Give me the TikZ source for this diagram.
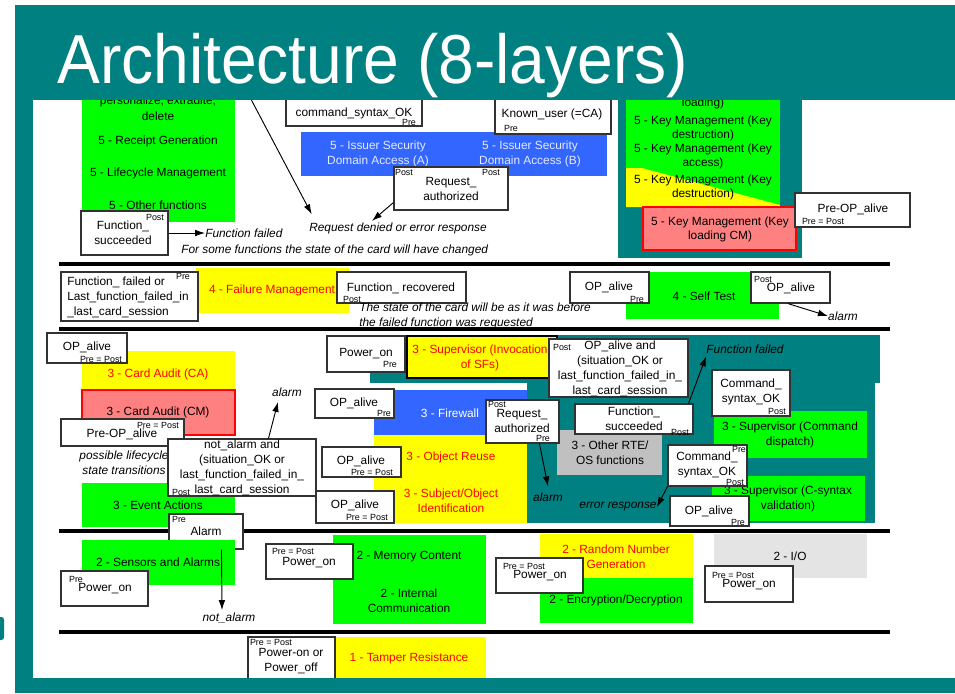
\documentclass[tikz,border=0pt]{standalone}
\usepackage{fontspec}
\usepackage{graphicx}
\setmainfont{Liberation Sans}
\usetikzlibrary{arrows.meta,fit}
\definecolor{teal5}{RGB}{0,128,128}
\definecolor{grn}{RGB}{0,255,0}
\definecolor{yel}{RGB}{255,255,0}
\definecolor{blu}{RGB}{51,102,255}
\definecolor{pnk}{RGB}{255,128,128}
\definecolor{rd}{RGB}{255,0,0}
\definecolor{gr1}{RGB}{192,192,192}
\definecolor{gr2}{RGB}{228,228,228}
\definecolor{bd}{RGB}{50,50,50}
\definecolor{isdt}{RGB}{228,234,255}
\begin{document}
\begin{tikzpicture}[x=0.75pt,y=-0.75pt,
 box/.style={draw=bd, fill=white, line width=0.8pt, inner sep=0pt},
 area/.style={inner sep=0pt, draw=none},
 tx/.style={font=\fontsize{8.9}{11.2}\selectfont, align=center, inner sep=0pt},
 km/.style={font=\fontsize{8.9}{10.5}\selectfont, align=center, inner sep=0pt},
 tag/.style={font=\fontsize{6.7}{7}\selectfont, inner sep=0pt},
 it/.style={font=\fontsize{8.9}{11.2}\selectfont\itshape, align=center, inner sep=0pt},
 arr/.style={-{Latex[length=7.5pt,width=5pt]}, line width=0.7pt},
 layer/.style={line width=2.6pt},
]
\useasboundingbox (0,0) rectangle (955,693);
\fill[white] (0,0) rectangle (955,693);

% layer separators
\draw[layer] (59,264) -- (890,264);
\draw[layer] (59,329) -- (890,329);
\draw[layer] (59,531) -- (890,531);
\draw[layer] (59,632) -- (890,632);

% ---------------- Layer 5
\node[area, fill=grn, fit={(82,90) (235,222)}] (g5) {};
\node[tx] (g5a) at (158,101) {personalize, extradite,};
\node[tx] (g5b) at (158,116) {delete};
\node[tx] (g5c) at (158,141) {5 - Receipt Generation};
\node[tx] (g5d) at (158,173) {5 - Lifecycle Management};
\node[tx] (g5e) at (158,205) {5 - Other functions};

\node[box, fit={(81,211) (168,255)}] (fs) {};
\node[tx] (fst) at (123,233) {Function\_\\succeeded};
\node[tag] (fsp) at (155,217) {Post};
\node[it, anchor=west] (iff1) at (205,233) {Function failed};
\draw[arr] (fs.east) -- (iff1.west);
\node[it, anchor=west] (isome) at (181,250) {For some functions the state of the card will have changed};

\node[area, fill=blu, fit={(301,132) (607,176)}] (isd) {};
\node[tx, text=isdt] (isda) at (378,154) {5 - Issuer Security\\Domain Access (A)};
\node[tx, text=isdt] (isdb) at (530,154) {5 - Issuer Security\\Domain Access (B)};

\node[box, fit={(286,86) (422,126)}] (cso) {};
\node[tx] (csot) at (354,113) {command\_syntax\_OK};
\node[tag] (csop) at (409,122) {Pre};

\node[box, fit={(495,86) (611,134)}] (ku) {};
\node[tx] (kut) at (552,114) {Known\_user (=CA)};
\node[tag] (kup) at (511,128) {Pre};

\node[box, fit={(394,167) (508,210)}] (ra) {};
\node[tx] (rat) at (451,189) {Request\_\\authorized};
\node[tag] (rap1) at (404,172) {Post};
\node[tag] (rap2) at (491,172) {Post};

\node[it] (ireq) at (398,228) {Request denied or error response};
\draw[arr] ([yshift=6pt]ra.south west) -- ([xshift=-19.5pt,yshift=1pt]ireq.north);
\coordinate (c0) at (244,86);
\draw[arr] (c0) -- ([xshift=2pt,yshift=6pt]ireq.north west);

\node[area, fill=teal5, fit={(618,90) (802,258)}] (kmt) {};
\node[area, fill=grn, fit={(626,90) (780,207)}] (kmg) {};
\fill[yel] (626,168) -- (642,168) -- (780,205) -- (780,207) -- (626,207) -- cycle;
\node[km] (km0) at (703,103) {loading)};
\node[km] (km1) at (703,128) {5 - Key Management (Key\\destruction)};
\node[km] (km2) at (703,156) {5 - Key Management (Key\\access)};
\node[km] (km3) at (703,187) {5 - Key Management (Key\\destruction)};
\node[area, fill=pnk, draw=rd, line width=1.2pt, fit={(643,207) (796,250)}] (kmr) {};
\node[km] (kmrt) at (720,229) {5 - Key Management (Key\\loading CM)};
\node[box, fit={(795,193) (910,227)}] (pop5) {};
\node[tx] (pop5t) at (853,209) {Pre-OP\_alive};
\node[tag] (pop5p) at (823,221) {Pre = Post};

% ---------------- Layer 4
\node[area, fill=yel, fit={(196,268) (349,313)}] (fm) {};
\node[tx, text=rd] (fmt) at (272,290) {4 - Failure Management};
\node[box, fit={(61,272) (198,321)}] (ff) {};
\node[tx, align=left, anchor=west] (fft) at (67,297) {Function\_ failed or\\Last\_function\_failed\_in\\\_last\_card\_session};
\node[tag] (ffp) at (183,276) {Pre};
\node[box, fit={(337,272) (466,303)}] (fr) {};
\node[tx] (frt) at (401,288) {Function\_ recovered};
\node[tag] (frp) at (352,299) {Post};
\node[it, align=left, anchor=west] (istate) at (359,316) {The state of the card will be as it was before\\the failed function was requested};

\node[area, fill=grn, fit={(626,272) (779,319)}] (st) {};
\node[tx] (stt) at (704,296) {4 - Self Test};
\node[box, fit={(570,272) (649,303)}] (opa4) {};
\node[tx] (opa4t) at (609,287) {OP\_alive};
\node[tag] (opa4p) at (637,299) {Pre};
\node[box, fit={(751,272) (830,303)}] (opb4) {};
\node[tx] (opb4t) at (791,288) {OP\_alive};
\node[tag] (opb4p) at (763,279) {Post};
\node[it] (ialarm1) at (843,316) {alarm};
\draw[arr] ([xshift=28pt]opb4.south west) -- (ialarm1.west);

% ---------------- Layer 3 left
\node[area, fill=yel, fit={(82,351) (235,390)}] (ca) {};
\node[tx, text=rd] (cat) at (158,374) {3 - Card Audit (CA)};
\node[area, fill=pnk, draw=rd, line width=1.2pt, fit={(82,390) (235,435)}] (cm) {};
\node[tx] (cmt) at (158,412) {3 - Card Audit (CM)};
\node[box, fit={(47,333) (127,363)}] (op3a) {};
\node[tx] (op3at) at (87,347) {OP\_alive};
\node[tag] (op3ap) at (101,359) {Pre = Post};
\node[it] (ilife) at (124,463) {possible lifecycle\\state transitions};
\node[box, fit={(61,419) (184,446)}] (pop3) {};
\node[tx] (pop3t) at (122,434) {Pre-OP\_alive};
\node[tag] (pop3p) at (158,425) {Pre = Post};
\node[area, fill=grn, fit={(82,483) (235,527)}] (ea) {};
\node[tx] (eat) at (158,505) {3 - Event Actions};
\node[box, fit={(168,439) (316,496)}] (na) {};
\node[tx] (nat) at (242,468) {not\_alarm and\\(situation\_OK or\\last\_function\_failed\_in\_\\last\_card\_session};
\node[tag] (nap) at (181,492) {Post};
\node[it] (ialarm2) at (287,392) {alarm};
\draw[arr] ([xshift=75.75pt]na.north west) -- ([xshift=-6.75pt,yshift=-4pt]ialarm2.south);

\node[box, fit={(169,514) (243,549)}] (al) {};
\node[tx] (alt) at (206,531) {Alarm};
\node[tag] (alp1) at (179,519) {Pre};
\node[tag] (alp2) at (181,543) {Post};

% ---------------- Layer 3 middle / right
\node[area, fill=teal5, fit={(370,335) (880,383)}] (tl1) {};
\node[area, fill=teal5, fit={(527,335) (875,523)}] (tl2) {};
\node[area, fill=blu, fit={(374,390) (527,435)}] (fw) {};
\node[tx, text=white] (fwt) at (450,413) {3 - Firewall};
\node[area, fill=yel, fit={(374,435) (527,523)}] (orr) {};
\node[tx, text=rd] (ort) at (451,457) {3 - Object Reuse};
\node[tx, text=rd] (sot) at (451,501) {3 - Subject/Object\\Identification};
\node[area, fill=yel, draw=black, line width=2pt, fit={(407,336) (557,378)}] (sup) {};
\node[tx, text=rd] (supt) at (480,358) {3 - Supervisor (Invocation\\of SFs)};

\node[box, fit={(327,336) (405,372)}] (pon3) {};
\node[tx] (pon3t) at (366,354) {Power\_on};
\node[tag] (pon3p) at (390,364) {Pre};
\node[box, fit={(549,339) (688,397)}] (opa3) {};
\node[tx] (opa3t) at (620,369) {OP\_alive and\\(situation\_OK or\\last\_function\_failed\_in\_\\last\_card\_session};
\node[tag] (opa3p) at (562,347) {Post};

\node[box, fit={(315,389) (394,418)}] (op3b) {};
\node[tx] (op3bt) at (354,403) {OP\_alive};
\node[tag] (op3bp) at (384,413) {Pre};
\node[box, fit={(322,447) (401,477)}] (op3c) {};
\node[tx] (op3ct) at (361,461) {OP\_alive};
\node[tag] (op3cp) at (372,472) {Pre = Post};
\node[box, fit={(316,491) (394,523)}] (op3d) {};
\node[tx] (op3dt) at (355,505) {OP\_alive};
\node[tag] (op3dp) at (367,517) {Pre = Post};

\node[area, fill=gr1, fit={(557,430) (662,475)}] (rte) {};
\node[tx] (rtet) at (610,453) {3 - Other RTE/\\OS functions};
\node[box, fit={(486,400) (559,443)}] (ra3) {};
\node[tx] (ra3t) at (522,421) {Request\_\\authorized};
\node[tag] (ra3p1) at (497,404) {Post};
\node[tag] (ra3p2) at (543,438) {Pre};
\node[it] (ialarm3) at (548,497) {alarm};
\draw[arr] ([xshift=40.5pt]ra3.south west) -- ([yshift=4.5pt]ialarm3.north);

\node[box, fit={(575,404) (693,434)}] (fsu) {};
\node[tx] (fsut) at (634,419) {Function\_\\succeeded};
\node[tag] (fsup) at (680,432) {Post};
\node[it] (iff2) at (745,349) {Function failed};
\draw[arr] ([xshift=-3.75pt]fsu.north east) -- ([yshift=-2pt]iff2.south west);

\node[area, fill=grn, fit={(714,411) (867,458)}] (sd) {};
\node[tx] (sdt) at (790,435) {3 - Supervisor (Command\\dispatch)};
\node[box, fit={(712,370) (790,416)}] (cs1) {};
\node[tx] (cs1t) at (751,392) {Command\_\\syntax\_OK};
\node[tag] (cs1p) at (777,411) {Post};
\node[area, fill=grn, fit={(712,476) (865,521)}] (sc) {};
\node[tx] (sct) at (788,499) {3 - Supervisor (C-syntax\\validation)};
\node[box, fit={(668,445) (747,486)}] (cs2) {};
\node[tx] (cs2t) at (707,465) {Command\_\\syntax\_OK};
\node[tag] (cs2p1) at (739,449) {Pre};
\node[tag] (cs2p2) at (735,482) {Post};
\node[it] (ierr) at (618,507) {error response};
\draw[arr] (cs2.south west) -- (ierr.east);
\node[box, fit={(670,496) (749,526)}] (op3e) {};
\node[tx] (op3et) at (709,511) {OP\_alive};
\node[tag] (op3ep) at (738,522) {Pre};

% ---------------- Layer 2
\node[area, fill=grn, fit={(82,540) (235,585)}] (sa) {};
\node[tx] (sat) at (158,562) {2 - Sensors and Alarms};
\node[box, fit={(61,571) (148,606)}] (pon2a) {};
\node[tx] (pon2at) at (105,589) {Power\_on};
\node[tag] (pon2ap) at (76,579) {Pre};
\node[it] (inot) at (229,618) {not\_alarm};
\draw[arr] ([xshift=39.75pt]al.south west) -- ([xshift=-5.25pt,yshift=2pt]inot.north);

\node[area, fill=grn, fit={(333,535) (486,624)}] (mc) {};
\node[tx] (mct) at (409,557) {2 - Memory Content};
\node[tx] (ict) at (409,601) {2 - Internal\\Communication};
\node[box, fit={(266,544) (353,579)}] (pon2b) {};
\node[tx] (pon2bt) at (309,563) {Power\_on};
\node[tag] (pon2bp) at (293,551) {Pre = Post};

\node[area, fill=yel, fit={(540,534) (693,578)}] (rng) {};
\node[tx, text=rd] (rngt) at (616,557) {2 - Random Number\\Generation};
\node[area, fill=grn, fit={(540,578) (693,623)}] (ed) {};
\node[tx] (edt) at (616,600) {2 - Encryption/Decryption};
\node[box, fit={(496,558) (583,593)}] (pon2c) {};
\node[tx] (pon2ct) at (540,576) {Power\_on};
\node[tag] (pon2cp) at (524,566) {Pre = Post};
\node[area, fill=gr2, fit={(714,534) (867,578)}] (io) {};
\node[tx] (iot) at (790,556) {2 - I/O};
\node[box, fit={(705,566) (793,602)}] (pon2d) {};
\node[tx] (pon2dt) at (749,585) {Power\_on};
\node[tag] (pon2dp) at (733,575) {Pre = Post};

% ---------------- Layer 1
\node[area, fill=yel, fit={(336,637) (486,685)}] (tr) {};
\node[tx, text=rd] (trt) at (409,658) {1 - Tamper Resistance};
\node[box, fit={(248,637) (335,690)}] (pw) {};
\node[tx] (pwt) at (291,661) {Power-on or\\Power\_off};
\node[tag] (pwp) at (271,642) {Pre = Post};

% ---------------- frame and title
\fill[teal5] (15,5) rectangle (955,100);
\fill[teal5] (15,5) rectangle (33,693);
\fill[teal5] (15,678) rectangle (955,693);
\fill[teal5, rounded corners=2pt] (-6,640) rectangle (4,617);
\node[anchor=base west, text=white, inner sep=0pt, font=\fontsize{52}{52}\selectfont] (title) at (57,83) {\scalebox{0.925}[1]{Architecture (8-layers)}};
\end{tikzpicture}
\end{document}
